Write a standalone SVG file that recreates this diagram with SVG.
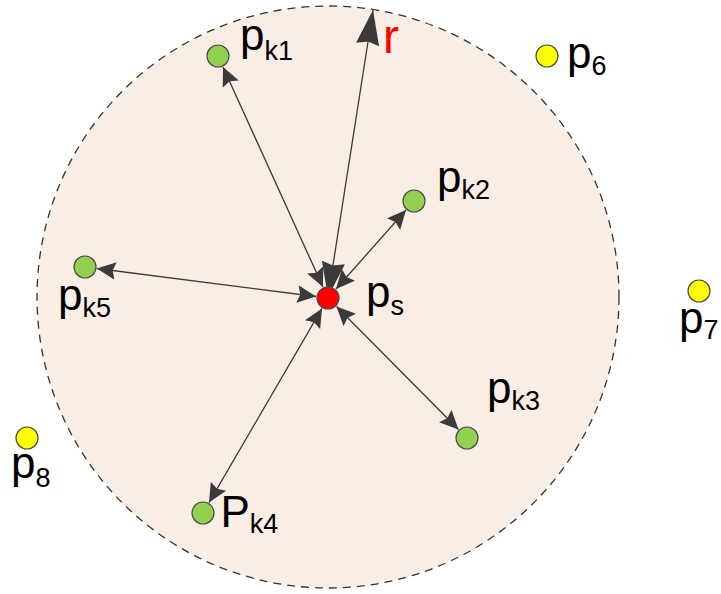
<svg xmlns="http://www.w3.org/2000/svg" width="721" height="594" viewBox="0 0 721 594">
<style>
text{font-family:"Liberation Sans",Arial,sans-serif;font-size:44px;fill:#000}
.sub{font-size:27px}
.g{fill:#92D050;stroke:#4a4a4a;stroke-width:1.2}
.y{fill:#FFFF00;stroke:#4a4a4a;stroke-width:1.2}
.rd{fill:#FF0000;stroke:#4a4a4a;stroke-width:1.2}
.ln{stroke:#3a3a3a;stroke-width:1.3;fill:none;marker-start:url(#a);marker-end:url(#a)}
.rl{stroke:#3a3a3a;stroke-width:1.3;fill:none;marker-start:url(#b);marker-end:url(#b)}
</style>
<defs>
<marker id="a" markerUnits="userSpaceOnUse" markerWidth="20" markerHeight="18" viewBox="0 0 17 15" refX="16" refY="7.5" orient="auto-start-reverse">
<path d="M0,0 L16,7.5 L0,15 L2.5,7.5 z" fill="#3a3a3a"/>
</marker>
<marker id="b" markerUnits="userSpaceOnUse" markerWidth="36" markerHeight="24" viewBox="0 0 34 22" refX="33" refY="11" orient="auto-start-reverse">
<path d="M0,0 L33,11 L0,22 L3,11 z" fill="#3a3a3a"/>
</marker>
</defs>
<g id="range">
<circle cx="328" cy="297" r="291" fill="#FAEEE4" stroke="#333" stroke-width="1.3" stroke-dasharray="8,6"/>
</g>
<g id="connectors">
<line class="ln" x1="223" y1="66.9" x2="323" y2="287.1"/>
<line class="ln" x1="406" y1="210" x2="336" y2="289"/>
<line class="ln" x1="458.5" y1="429.5" x2="336.5" y2="306.5"/>
<line class="ln" x1="209" y1="502.6" x2="322" y2="308.4"/>
<line class="ln" x1="96.9" y1="268.5" x2="316.1" y2="296.5"/>
<line class="rl" x1="328" y1="297" x2="373" y2="10"/>
</g>
<g id="r-label"><text x="383" y="53" style="fill:#FF0000;font-size:48px">r</text></g>
<g id="ps"><circle class="rd" cx="328" cy="298" r="11"/><text x="366" y="307">p<tspan class="sub" dy="8">s</tspan></text></g>
<g id="pk1"><circle class="g" cx="218" cy="56" r="11"/><text x="240" y="50">p<tspan class="sub" dy="10">k1</tspan></text></g>
<g id="pk2"><circle class="g" cx="414" cy="201" r="11"/><text x="437" y="192">p<tspan class="sub" dy="7">k2</tspan></text></g>
<g id="pk3"><circle class="g" cx="467" cy="438" r="11"/><text x="487" y="403">p<tspan class="sub" dy="7">k3</tspan></text></g>
<g id="pk4"><circle class="g" cx="203" cy="513" r="11"/><text x="220.5" y="527">P<tspan class="sub" dy="6">k4</tspan></text></g>
<g id="pk5"><circle class="g" cx="85" cy="267" r="11"/><text x="58" y="310">p<tspan class="sub" dy="7">k5</tspan></text></g>
<g id="p6"><circle class="y" cx="547" cy="56" r="11"/><text x="567" y="68">p<tspan class="sub" dy="7">6</tspan></text></g>
<g id="p7"><circle class="y" cx="699" cy="291" r="11"/><text x="679" y="333">p<tspan class="sub" dy="6">7</tspan></text></g>
<g id="p8"><circle class="y" cx="27" cy="438" r="11"/><text x="11" y="478">p<tspan class="sub" dy="9">8</tspan></text></g>
</svg>
